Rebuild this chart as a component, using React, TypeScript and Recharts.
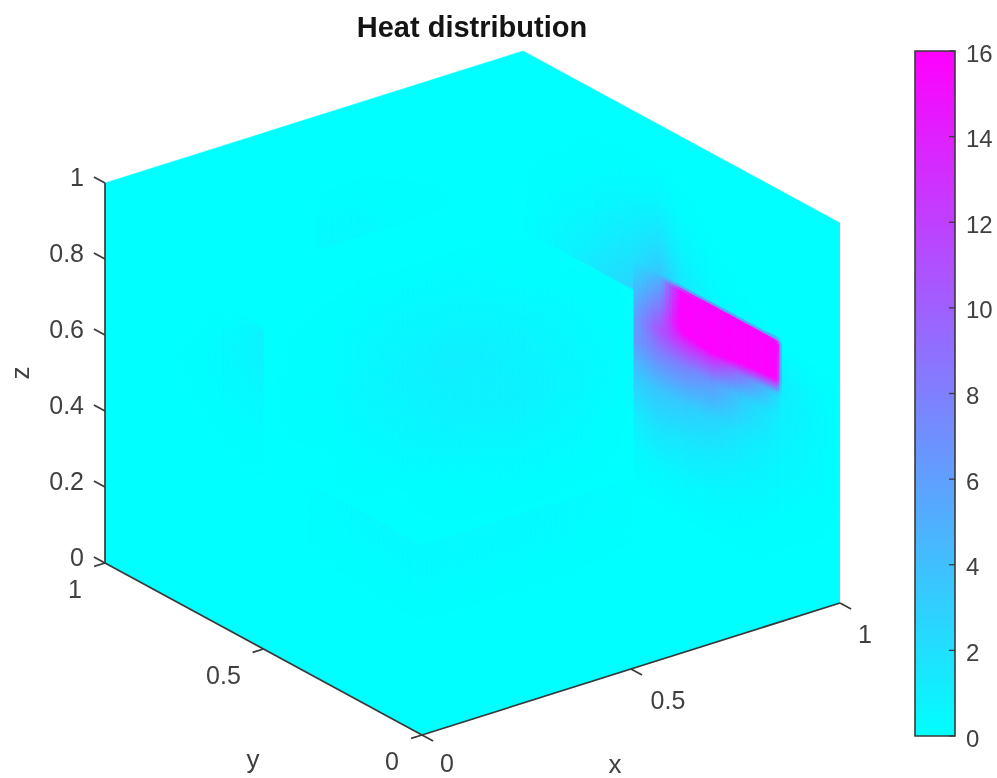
import React from 'react';
import { Area, Bar, BarChart, ComposedChart, ReferenceLine, Scatter, XAxis, YAxis } from 'recharts';

const FONT = '"Liberation Sans", Arial, sans-serif';
const TICK_COLOR = '#404040';
const AXIS_COLOR = '#3a3a3a';

const zTicks = [0, 0.2, 0.4, 0.6, 0.8, 1];
const xTicks = [0, 0.5, 1];
const yTicks = [0, 0.5, 1];
const colorbarTicks = [0, 2, 4, 6, 8, 10, 12, 14, 16];
const colorbarMax = 16;

// heat: hot block on the x = 1 slice
const hotY = [0, 0.1, 0.185, 0.2, 0.3, 0.4, 0.5, 0.57, 0.65];
const hotZ = [0, 0.1, 0.2, 0.3, 0.4, 0.46, 0.5, 0.595, 0.61, 0.7, 0.8, 0.9];
const hotHeat = [
  [0, 0, 0, 0, 0.05, 0.05, 0.05, 0.05, 0.05],
  [0, 0.02, 0.05, 0.08, 0.22, 0.4, 0.45, 0.45, 0.35],
  [0, 0.1, 0.25, 0.3, 0.7, 1.2, 1.5, 1.8, 1.2],
  [0, 0.35, 0.6, 0.7, 1.4, 2.5, 3.3, 3.6, 3.2],
  [0, 0.5, 0.9, 1.1, 3, 6.5, 8, 8, 6.5],
  [0, 0.5, 1.1, 2.4, 8, 13, 13, 11, 6],
  [0, 0.4, 1, 16, 18, 20, 17, 9.5, 5],
  [0, 0, 0, 20, 22, 22, 17, 5, 2.3],
  [0, 0, 0, 0, 0.1, 0.3, 1.5, 3.5, 2],
  [0, 0, 0, 0, 0, 0.1, 0.6, 1.8, 1.1],
  [0, 0, 0, 0, 0, 0, 0.1, 0.5, 0.3],
  [0, 0, 0, 0, 0, 0, 0, 0, 0],
];

// glow behind the block, same slice, further along y
const backY = [0.65, 0.8, 0.9, 1];
const backZ = [0.53, 0.6, 0.7, 0.8, 0.9];
const backHeat = [
  [2.8, 1.2, 0.5, 0.1],
  [2, 0.8, 0.3, 0.05],
  [1.1, 0.3, 0.1, 0],
  [0.3, 0.08, 0, 0],
  [0, 0, 0, 0],
];

// faint patch on the y = 1 slice
const rearX = [0.5, 0.52, 0.6, 0.7, 0.87];
const rearZ = [0.647, 0.7, 0.8];
const rearHeat = [
  [0, 0.4, 0.4, 0.15, 0],
  [0, 0.3, 0.25, 0.08, 0],
  [0, 0.05, 0.03, 0, 0],
];

// faint patch left of the y = 0.5 slice
const sideY = [0.5, 0.6, 0.7, 0.8];
const sideZ = [0.45, 0.55, 0.655, 0.76, 0.83, 0.85];
const sideHeat = [
  [0.05, 0, 0, 0],
  [0.15, 0.1, 0.03, 0],
  [0.4, 0.3, 0.1, 0],
  [0.8, 0.4, 0, 0],
  [1, 0, 0, 0],
  [0, 0, 0, 0],
];

// central glow
const midX = [0, 0.15, 0.3, 0.45, 0.6, 0.75, 0.88];
const midZ = [0.15, 0.3, 0.45, 0.6, 0.75, 0.9];
const midHeat = [
  [0, 0, 0, 0, 0, 0, 0],
  [0, 0, 0, 0.12, 0.31, 0.25, 0],
  [0, 0, 0.34, 0.78, 0.9, 0.5, 0.08],
  [0, 0.14, 0.66, 1.07, 0.78, 0.27, 0],
  [0, 0.11, 0.4, 0.44, 0.17, 0, 0],
  [0, 0, 0, 0, 0, 0, 0],
];

// floor glow under the z = 0.5 slice
const floorY = [0, 0.18, 0.36];
const floorZ = [0.3, 0.4, 0.5];
const floorLeftHeat = [
  [0.05, 0.03, 0],
  [0.2, 0.15, 0.08],
  [0.35, 0.3, 0.15],
];
const floorX = [0, 0.25, 0.5];
const floorRightHeat = [
  [0.05, 0.05, 0],
  [0.2, 0.2, 0.1],
  [0.35, 0.35, 0.15],
];

// view of the unit cube on the page plane
const project = (x: number, y: number, z: number) => ({
  px: 422 + 418 * x - 317 * y,
  py: 735 - 132 * x - 172 * y - 380 * z,
});

const heatColor = (v: number) => {
  const r = Math.round((255 * Math.min(v, colorbarMax)) / colorbarMax);
  return `rgb(${r},${255 - r},255)`;
};

const faceBand = (points: number[][]) =>
  points.map(([x, y]) => {
    const low = project(x, y, 0);
    const high = project(x, y, 1);
    return { px: low.px, band: [high.py, low.py] };
  });

const cubeFaces = [
  faceBand([[0, 1], [1, 1]]),
  faceBand([[1, 1], [1, 0]]),
  faceBand([[0, 1], [0, 0]]),
  faceBand([[0, 0], [1, 0]]),
];

// shading of a slice, like "shading interp": each mesh cell is split into small flat pieces
const sliceCells = (
  toPoint: (u: number, z: number) => { px: number; py: number },
  us: number[],
  zs: number[],
  heat: number[][],
  step: number,
) => {
  const cells: any[] = [];
  for (let j = 0; j < zs.length - 1; j++) {
    for (let i = 0; i < us.length - 1; i++) {
      const a = toPoint(us[i], zs[j]);
      const b = toPoint(us[i + 1], zs[j]);
      const c = toPoint(us[i], zs[j + 1]);
      const nu = Math.max(1, Math.ceil(Math.abs(b.px - a.px) / step));
      const nz = Math.max(1, Math.ceil(Math.abs(c.py - a.py) / step));
      for (let m = 0; m < nu; m++) {
        for (let n = 0; n < nz; n++) {
          const s = (m + 0.5) / nu;
          const t = (n + 0.5) / nz;
          const v =
            (1 - t) * ((1 - s) * heat[j][i] + s * heat[j][i + 1]) +
            t * ((1 - s) * heat[j + 1][i] + s * heat[j + 1][i + 1]);
          if (v < 0.03) continue;
          const center = toPoint(
            us[i] + s * (us[i + 1] - us[i]),
            zs[j] + t * (zs[j + 1] - zs[j]),
          );
          cells.push({
            ...center,
            fill: heatColor(v),
            du: { x: (b.px - a.px) / nu / 2, y: (b.py - a.py) / nu / 2 },
            dz: (c.py - a.py) / nz / 2,
          });
        }
      }
    }
  }
  return cells;
};

const sliceLayers = [
  sliceCells((u, z) => project(u, 0.5, z), midX, midZ, midHeat, 5),
  sliceCells((u, z) => project(0, u, z), floorY, floorZ, floorLeftHeat, 5),
  sliceCells((u, z) => project(u, 0, z), floorX, floorZ, floorRightHeat, 5),
  sliceCells((u, z) => project(0, u, z), sideY, sideZ, sideHeat, 5),
  sliceCells((u, z) => project(u, 1, z), rearX, rearZ, rearHeat, 5),
  sliceCells((u, z) => project(1, u, z), backY, backZ, backHeat, 5),
  sliceCells((u, z) => project(1, u, z), hotY, hotZ, hotHeat, 3.5),
];

const CellShape = (props: any) => {
  const { cx, cy, payload } = props;
  const { du, dz, fill } = payload;
  const pts = [
    [cx - du.x, cy - du.y - dz],
    [cx + du.x, cy + du.y - dz],
    [cx + du.x, cy + du.y + dz],
    [cx - du.x, cy - du.y + dz],
  ];
  return <polygon points={pts.map((p) => p.join(',')).join(' ')} fill={fill} stroke={fill} strokeWidth={0.7} />;
};

const TextShape = (props: any) => {
  const { cx, cy, payload } = props;
  return (
    <text
      x={cx}
      y={cy}
      textAnchor={payload.anchor || 'middle'}
      dominantBaseline="central"
      fontFamily={FONT}
      fontSize={payload.size || 25}
      fontWeight={payload.bold ? 700 : 400}
      fill={payload.color || TICK_COLOR}
      transform={payload.rotate ? `rotate(-90 ${cx} ${cy})` : undefined}
    >
      {payload.label}
    </text>
  );
};

const shifted = (p: { px: number; py: number }, dx: number, dy: number, label: string, anchor?: string) => ({
  px: p.px + dx,
  py: p.py + dy,
  label,
  anchor,
});

const axisLabels = [
  ...zTicks.map((z) => shifted(project(0, 1, z), -21, -6, String(z), 'end')),
  ...xTicks.map((x) => shifted(project(x, 0, 0), x === 0.5 ? 37 : 25, x === 0 ? 28 : 31, String(x))),
  ...yTicks.map((y) => shifted(project(0, y, 0), y === 0.5 ? -40 : -30, 26, String(y))),
  { px: 615, py: 764, label: 'x', size: 26 },
  { px: 253, py: 759, label: 'y', size: 26 },
  { px: 20, py: 373, label: 'z', size: 26, rotate: true },
  { px: 472, py: 27, label: 'Heat distribution', size: 29, bold: true, color: '#141414' },
];

const seg = (a: { px: number; py: number }, b: { px: number; py: number }) => [
  { x: a.px, y: a.py },
  { x: b.px, y: b.py },
];

const axisSegments = [
  seg(project(0, 1, 0), project(0, 1, 1)),
  seg(project(0, 0, 0), project(1, 0, 0)),
  seg(project(0, 0, 0), project(0, 1, 0)),
  ...zTicks.map((z) => seg(project(0, 1, z), project(0, 1.035, z))),
  ...xTicks.map((x) => seg(project(x, 0, 0), project(x, -0.035, 0))),
  ...yTicks.map((y) => seg(project(0, y, 0), project(-0.026, y, 0))),
];

const colorbarData = [{ name: 'heat', top: colorbarMax }];

const ColorbarTick = (props: any) => {
  const { x, y, payload } = props;
  return (
    <g>
      <line x1={x - 6} x2={x} y1={y} y2={y} stroke={AXIS_COLOR} strokeWidth={1.3} />
      <text x={x + 11} y={y + 2} dominantBaseline="central" fontFamily={FONT} fontSize={24} fill={TICK_COLOR}>
        {payload.value}
      </text>
    </g>
  );
};

export default function App() {
  return (
    <div style={{ position: 'absolute', left: 0, top: 0, width: 997, height: 778, filter: 'blur(0.6px)' }}>
      <ComposedChart width={997} height={778} margin={{ top: 0, right: 0, bottom: 0, left: 0 }}>
        <XAxis type="number" dataKey="px" domain={[0, 997]} hide allowDataOverflow />
        <YAxis type="number" dataKey="py" domain={[0, 778]} reversed hide allowDataOverflow />
        {cubeFaces.map((face, i) => (
          <Area
            key={`face-${i}`}
            data={face}
            dataKey="band"
            type="linear"
            fill="#00ffff"
            fillOpacity={1}
            stroke="#00ffff"
            strokeWidth={0.5}
            dot={false}
            activeDot={false}
            isAnimationActive={false}
          />
        ))}
        {sliceLayers.map((cells, i) => (
          <Scatter key={`slice-${i}`} data={cells} shape={<CellShape />} isAnimationActive={false} />
        ))}
        {axisSegments.map((segment, i) => (
          <ReferenceLine key={`axis-${i}`} segment={segment} stroke={AXIS_COLOR} strokeWidth={1.7} />
        ))}
        <Scatter data={axisLabels} shape={<TextShape />} isAnimationActive={false} />
      </ComposedChart>
      <div style={{ position: 'absolute', left: 913, top: 29 }}>
        <BarChart
          width={84}
          height={729}
          data={colorbarData}
          barCategoryGap={0}
          margin={{ top: 22, right: 0, bottom: 22, left: 2 }}
        >
          <defs>
            <linearGradient id="coolMap" x1="0" y1="0" x2="0" y2="1">
              <stop offset="0" stopColor={heatColor(colorbarMax)} />
              <stop offset="1" stopColor={heatColor(0)} />
            </linearGradient>
          </defs>
          <XAxis dataKey="name" hide />
          <YAxis
            orientation="right"
            type="number"
            domain={[0, colorbarMax]}
            ticks={colorbarTicks}
            interval={0}
            width={42}
            axisLine={false}
            tickLine={false}
            tickSize={0}
            tickMargin={0}
            tick={<ColorbarTick />}
          />
          <Bar dataKey="top" fill="url(#coolMap)" stroke={AXIS_COLOR} strokeWidth={1.6} isAnimationActive={false} />
        </BarChart>
      </div>
    </div>
  );
}
